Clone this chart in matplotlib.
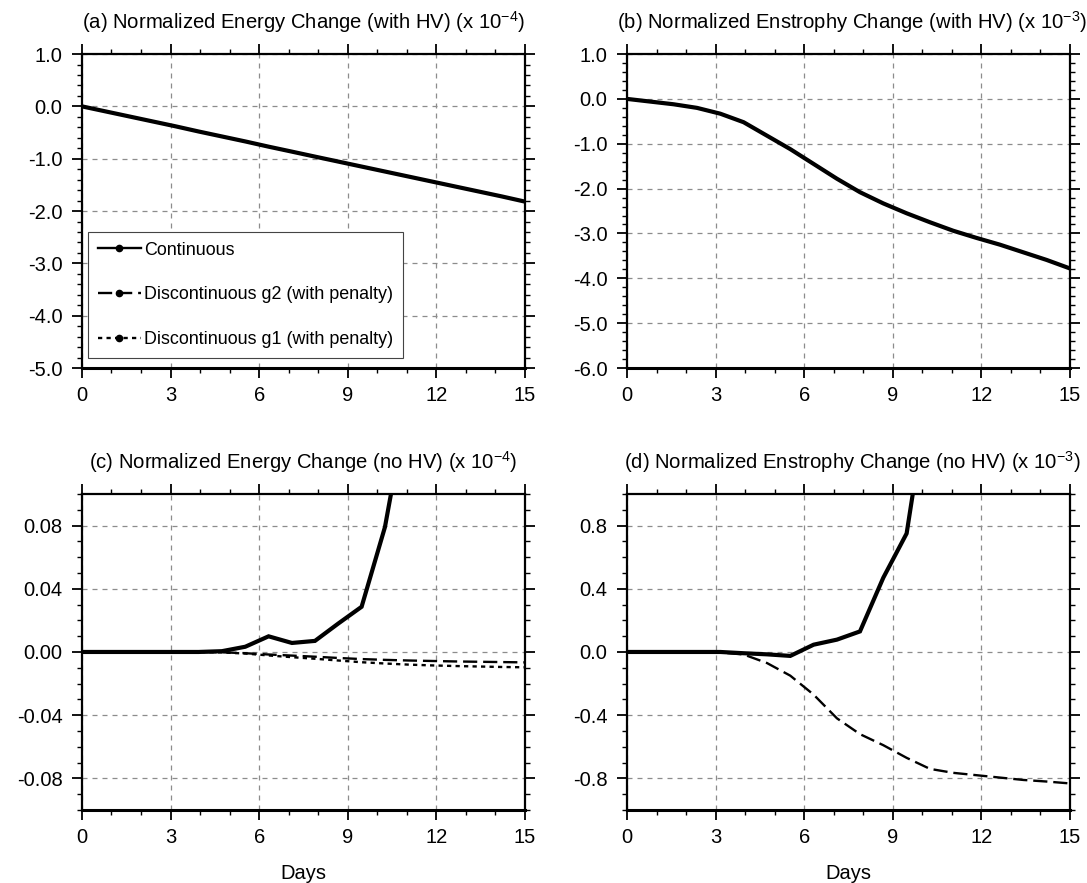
import matplotlib
matplotlib.use("Agg")
import matplotlib.pyplot as plt
from matplotlib.ticker import MultipleLocator, FormatStrFormatter
from matplotlib.lines import Line2D

plt.rcParams["font.family"] = ["Liberation Sans", "DejaVu Sans"]
plt.rcParams["mathtext.fontset"] = "custom"
plt.rcParams["mathtext.rm"] = "Liberation Sans"
plt.rcParams["axes.unicode_minus"] = False

# ---------------- data ----------------

days = [0.0, 0.79, 1.58, 2.37, 3.16, 3.95, 4.74, 5.53, 6.32, 7.11,
        7.89, 8.68, 9.47, 10.26, 11.05, 11.84, 12.63, 13.42, 14.21, 15.0]

# (a) energy change with HV, x 1e-4 (all three runs coincide)
energy_hv = [0.0, -0.095, -0.19, -0.285, -0.38, -0.48, -0.575, -0.67, -0.77, -0.865,
             -0.96, -1.055, -1.15, -1.245, -1.34, -1.435, -1.53, -1.625, -1.72, -1.82]

# (b) enstrophy change with HV, x 1e-3 (all three runs coincide)
enstrophy_hv = [0.0, -0.06, -0.12, -0.2, -0.33, -0.52, -0.82, -1.12, -1.45, -1.78,
                -2.08, -2.33, -2.55, -2.75, -2.94, -3.1, -3.25, -3.42, -3.59, -3.78]

# (c) energy change, no HV, x 1e-4
energy_cont = [0.0, 0.0, 0.0, 0.0, 0.0, 0.0, 0.0005, 0.0033, 0.0099, 0.0057,
               0.007, 0.018, 0.0286, 0.079, 0.16]
energy_g2 = [0.0, 0.0, 0.0, 0.0, 0.0, 0.0, -0.0002, -0.0008, -0.0016, -0.0023,
             -0.003, -0.0038, -0.0045, -0.005, -0.0054, -0.0057, -0.006, -0.0062, -0.0064, -0.0066]
energy_g1 = [0.0, 0.0, 0.0, 0.0, 0.0, 0.0, -0.0003, -0.001, -0.0022, -0.0033,
             -0.0043, -0.0054, -0.0065, -0.0073, -0.008, -0.0085, -0.0089, -0.0092, -0.0095, -0.0097]

# (d) enstrophy change, no HV, x 1e-3
enstrophy_cont = [0.0, 0.0, 0.0, 0.0, 0.0, -0.008, -0.015, -0.025, 0.046, 0.078,
                  0.13, 0.47, 0.75, 1.7]
enstrophy_g2 = [0.0, 0.0, 0.0, 0.0, -0.003, -0.016, -0.07, -0.15, -0.27, -0.42,
                -0.52, -0.59, -0.67, -0.74, -0.765, -0.78, -0.795, -0.81, -0.82, -0.832]

labels = ["Continuous", "Discontinuous g2 (with penalty)", "Discontinuous g1 (with penalty)"]
titles = [
    r"(a) Normalized Energy Change (with HV) (x 10$^{-4}$)",
    r"(b) Normalized Enstrophy Change (with HV) (x 10$^{-3}$)",
    r"(c) Normalized Energy Change (no HV) (x 10$^{-4}$)",
    r"(d) Normalized Enstrophy Change (no HV) (x 10$^{-3}$)",
]

# ---------------- styles ----------------

SOLID = dict(color="black", lw=3.0, solid_joinstyle="miter")
DASH = dict(color="black", lw=1.7, dashes=(6, 2.5))
DOT = dict(color="black", lw=1.7, dashes=(1.8, 1.8))

fig = plt.figure(figsize=(10.87, 8.83), dpi=100)
pos = [
    [0.0754, 0.5832, 0.4075, 0.3556],
    [0.5768, 0.5832, 0.4075, 0.3556],
    [0.0754, 0.0827, 0.4075, 0.3579],
    [0.5768, 0.0827, 0.4075, 0.3579],
]
axes = [fig.add_axes(p) for p in pos]


def _style(ax, ylim, ymaj, ymin, fmt, title, xlabel=None, tx=0.5):
    ax.set_xlim(0, 15)
    ax.set_ylim(*ylim)
    ax.xaxis.set_major_locator(MultipleLocator(3))
    ax.xaxis.set_minor_locator(MultipleLocator(1))
    ax.yaxis.set_major_locator(MultipleLocator(ymaj))
    ax.yaxis.set_minor_locator(MultipleLocator(ymin))
    ax.yaxis.set_major_formatter(FormatStrFormatter(fmt))
    ax.xaxis.set_major_formatter(FormatStrFormatter("%d"))
    ax.tick_params(which="both", direction="out", top=True, right=True,
                   width=1.3, labelsize=14.5)
    ax.tick_params(which="major", length=7)
    ax.tick_params(which="minor", length=3.5, width=1.0)
    ax.tick_params(axis="x", pad=6)
    ax.tick_params(axis="y", pad=7)
    for s in ax.spines.values():
        s.set_linewidth(1.6)
    ax.spines["bottom"].set_linewidth(2.2)
    ax.grid(True, which="major", color="#8c8c8c", linestyle=(0, (4, 4)), linewidth=0.9)
    ax.set_title(title, fontsize=14.6, y=1.0, pad=18, x=tx)
    if xlabel:
        ax.set_xlabel(xlabel, fontsize=14.5, labelpad=12)


# (a)
ax = axes[0]
ax.plot(days, energy_hv, **DOT)
ax.plot(days, energy_hv, **DASH)
ax.plot(days, energy_hv, **SOLID)
_style(ax, (-5.0, 1.0), 1.0, 0.2, "%.1f", titles[0])

handles = [
    Line2D([], [], marker="o", markersize=4.5, **SOLID),
    Line2D([], [], marker="o", markersize=4.5, **DASH),
    Line2D([], [], marker="o", markersize=4.5, **DOT),
]
handles[0].set_linewidth(1.7)
leg = ax.legend(handles, labels, loc="lower left", bbox_to_anchor=(0.0135, 0.032),
                borderaxespad=0, fontsize=12.9, numpoints=1, handlelength=2.4,
                handletextpad=0.2, labelspacing=1.55, borderpad=0.55,
                fancybox=False, framealpha=1)
leg.get_frame().set_edgecolor("#444444")
leg.get_frame().set_linewidth(0.8)

# (b)
ax = axes[1]
ax.plot(days, enstrophy_hv, **DOT)
ax.plot(days, enstrophy_hv, **DASH)
ax.plot(days, enstrophy_hv, **SOLID)
_style(ax, (-6.0, 1.0), 1.0, 0.2, "%.1f", titles[1], tx=0.508)

# (c)
ax = axes[2]
ax.plot(days, energy_g1, **DOT)
ax.plot(days, energy_g2, **DASH)
ax.plot(days[:len(energy_cont)], energy_cont, **SOLID)
_style(ax, (-0.1, 0.1), 0.04, 0.01, "%.2f", titles[2], "Days")

# (d)
ax = axes[3]
ax.plot(days, enstrophy_g2, **DASH)
ax.plot(days[:len(enstrophy_cont)], enstrophy_cont, **SOLID)
_style(ax, (-1.0, 1.0), 0.4, 0.1, "%.1f", titles[3], "Days", tx=0.508)

fig.savefig("out.png", dpi=100)
